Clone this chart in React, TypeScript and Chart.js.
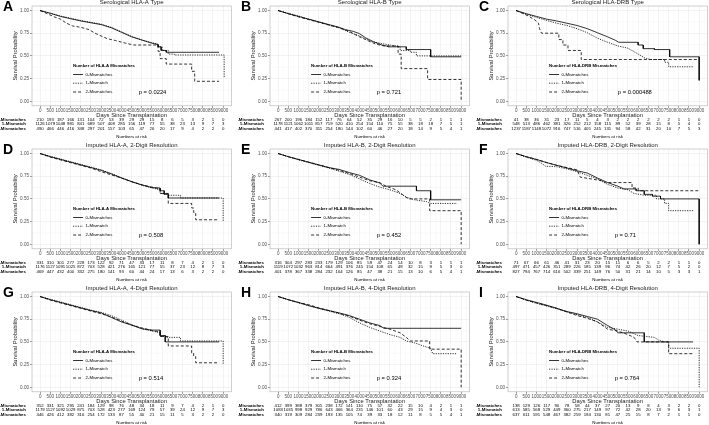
import React, { useEffect, useRef } from 'react';
import { Chart, registerables } from 'chart.js';
Chart.register(...registerables);

const FONT = '"Liberation Sans", Arial, Helvetica, sans-serif';

const X_TICKS = [0, 500, 1000, 1500, 2000, 2500, 3000, 3500, 4000, 4500, 5000, 5500, 6000, 6500, 7000, 7500, 8000, 8500, 9000];
const Y_TICKS = [0, 0.25, 0.5, 0.75, 1];
const GROUP_LABELS = ['0-Mismatches', '1-Mismatch', '2-Mismatches'];
const RISK_LABELS = ['2-Mismatches', '1-Mismatch', '0-Mismatches'];

// ---- survival curves: [days, survival] ----
const a0 = [[0,1],[500,0.97],[1000,0.935],[1500,0.91],[2000,0.885],[2500,0.865],[3000,0.845],[3500,0.81],[4000,0.76],[4500,0.71],[5000,0.675],[5500,0.64],[5800,0.625],[5800,0.6],[5950,0.6],[5950,0.56],[6200,0.56],[6200,0.54],[8800,0.54]];
const a1 = [[0,1],[500,0.97],[1000,0.94],[1500,0.915],[2000,0.89],[2500,0.87],[3000,0.85],[3500,0.815],[4000,0.765],[4500,0.715],[5000,0.675],[5500,0.645],[5800,0.63],[5800,0.6],[6000,0.6],[6000,0.56],[6300,0.56],[6300,0.52],[6600,0.52],[6600,0.51],[9050,0.51],[9050,0.26]];
const a2 = [[0,1],[300,0.97],[700,0.93],[1000,0.905],[1300,0.86],[1600,0.83],[2000,0.815],[2400,0.79],[2700,0.75],[3000,0.72],[3300,0.69],[3700,0.67],[4200,0.64],[4600,0.62],[5800,0.62],[5800,0.55],[5900,0.55],[5900,0.47],[6200,0.47],[6200,0.41],[7450,0.41],[7450,0.33],[7600,0.33],[7600,0.22],[8800,0.22]];

const b0 = [[0,1],[500,0.965],[1000,0.935],[1500,0.905],[2000,0.875],[2500,0.845],[3000,0.815],[3300,0.79],[3700,0.77],[4000,0.745],[4300,0.7],[4700,0.655],[5100,0.62],[5400,0.605],[5400,0.6],[6300,0.6],[6300,0.57],[7500,0.57],[7500,0.49],[9000,0.49]];
const b1 = [[0,1],[500,0.97],[1000,0.94],[1500,0.905],[2000,0.875],[2500,0.84],[3000,0.81],[3500,0.76],[4000,0.72],[4500,0.665],[5000,0.64],[5500,0.62],[6000,0.6],[6000,0.56],[6500,0.56],[6500,0.54],[6800,0.54],[6800,0.5],[9000,0.5]];
const b2 = [[0,1],[500,0.965],[1000,0.93],[1500,0.9],[2000,0.87],[2500,0.84],[3000,0.81],[3500,0.77],[4000,0.71],[4300,0.68],[4800,0.63],[5200,0.61],[5900,0.61],[5900,0.52],[6050,0.52],[6050,0.36],[7350,0.36],[7350,0.24],[9000,0.24],[9000,0]];

const c0 = [[0,1],[500,0.965],[1000,0.935],[1500,0.905],[2000,0.885],[2500,0.86],[3000,0.835],[3500,0.8],[4000,0.755],[4500,0.71],[4900,0.67],[5050,0.65],[6000,0.65],[6000,0.62],[6250,0.62],[6250,0.58],[6800,0.58],[6800,0.57],[7550,0.57],[7550,0.49],[9000,0.49],[9000,0.23]];
const c1 = [[0,1],[500,0.96],[1000,0.925],[1500,0.89],[2000,0.86],[2500,0.835],[3000,0.8],[3500,0.755],[4000,0.695],[4500,0.65],[5000,0.61],[5500,0.585],[6000,0.52],[6300,0.48],[6600,0.46],[7300,0.46],[7300,0.43],[7500,0.43],[7500,0.38],[8700,0.38]];
const c2 = [[0,1],[300,0.97],[600,0.94],[900,0.9],[1100,0.86],[1150,0.8],[1250,0.75],[2100,0.75],[2100,0.68],[2300,0.68],[2300,0.62],[2550,0.62],[2550,0.56],[3200,0.56],[3200,0.46],[9000,0.46]];

const d0 = [[0,1],[500,0.965],[1000,0.935],[1500,0.905],[2000,0.875],[2500,0.845],[3000,0.815],[3500,0.775],[4000,0.73],[4500,0.69],[5000,0.655],[5500,0.625],[5900,0.62],[5900,0.59],[6100,0.59],[6100,0.55],[6300,0.55],[6300,0.51],[8800,0.51]];
const d1 = [[0,1],[500,0.97],[1000,0.94],[1500,0.91],[2000,0.88],[2500,0.85],[3000,0.82],[3500,0.78],[4000,0.735],[4500,0.69],[5000,0.65],[5500,0.62],[5900,0.6],[5900,0.56],[6300,0.56],[6300,0.54],[6900,0.54],[6900,0.51],[9000,0.51],[9000,0.25]];
const d2 = [[0,1],[500,0.96],[1000,0.93],[1500,0.9],[2000,0.87],[2500,0.84],[3000,0.8],[3500,0.765],[4000,0.73],[4500,0.69],[5000,0.655],[5500,0.63],[5900,0.61],[5900,0.56],[6300,0.56],[6300,0.45],[7450,0.45],[7450,0.4],[7550,0.4],[7550,0.35],[7650,0.35],[7650,0.27],[8800,0.27]];

const e0 = [[0,1],[500,0.965],[1000,0.935],[1500,0.905],[2000,0.875],[2500,0.845],[3000,0.825],[3500,0.79],[4000,0.76],[4500,0.71],[5000,0.675],[5150,0.64],[6800,0.64],[6800,0.59],[7500,0.59],[7500,0.49],[9000,0.49]];
const e1 = [[0,1],[500,0.965],[1000,0.93],[1500,0.9],[2000,0.87],[2500,0.84],[3000,0.805],[3500,0.77],[4000,0.72],[4500,0.67],[5000,0.63],[5500,0.6],[6000,0.56],[6300,0.52],[6700,0.49],[7300,0.47],[7500,0.45],[8800,0.45]];
const e2 = [[0,1],[500,0.965],[1000,0.935],[1500,0.905],[2000,0.875],[2500,0.845],[3000,0.815],[3500,0.78],[4000,0.74],[4500,0.7],[5000,0.68],[5300,0.64],[5800,0.6],[6100,0.55],[6400,0.5],[7450,0.5],[7450,0.37],[9000,0.37],[9000,0]];

const f0 = [[0,1],[500,0.965],[1000,0.935],[1500,0.9],[2000,0.87],[2500,0.84],[3000,0.81],[3500,0.785],[4000,0.73],[4500,0.68],[5000,0.64],[5300,0.61],[5900,0.61],[5900,0.59],[6300,0.59],[6300,0.55],[6700,0.55],[6700,0.53],[7100,0.53],[7100,0.5],[9000,0.5],[9000,0]];
const f1 = [[0,1],[500,0.96],[1000,0.925],[1200,0.9],[1450,0.86],[2000,0.855],[2500,0.83],[3000,0.8],[3500,0.76],[4000,0.72],[4500,0.66],[5000,0.62],[5500,0.6],[5800,0.56],[6300,0.54],[6900,0.54],[6900,0.5],[7300,0.5],[7300,0.45],[7500,0.45],[7500,0.37],[8700,0.37]];
const f2 = [[0,1],[500,0.965],[1000,0.935],[1500,0.9],[2000,0.87],[2500,0.845],[3000,0.82],[3150,0.74],[3700,0.72],[4200,0.7],[4400,0.68],[5700,0.68],[5700,0.62],[6000,0.62],[6000,0.59],[9000,0.59]];

const g0 = [[0,1],[500,0.965],[1000,0.935],[1500,0.905],[2000,0.875],[2500,0.845],[3000,0.82],[3500,0.77],[4000,0.72],[4500,0.685],[5000,0.645],[5500,0.63],[5900,0.63],[5900,0.57],[6150,0.57],[6150,0.5],[8800,0.5]];
const g1 = [[0,1],[500,0.97],[1000,0.94],[1500,0.91],[2000,0.88],[2500,0.85],[3000,0.825],[3500,0.79],[4000,0.74],[4500,0.69],[5000,0.645],[5500,0.62],[5900,0.6],[5900,0.56],[6200,0.56],[6200,0.55],[6900,0.55],[6900,0.51],[9000,0.51],[9000,0.25]];
const g2 = [[0,1],[500,0.96],[1000,0.93],[1500,0.9],[2000,0.87],[2500,0.84],[3000,0.81],[3500,0.775],[4000,0.73],[4500,0.685],[5000,0.655],[5500,0.625],[5900,0.61],[5900,0.56],[6300,0.56],[6300,0.455],[7450,0.455],[7450,0.38],[7550,0.38],[7550,0.34],[7650,0.34],[7650,0.27],[8800,0.27]];

const h0 = [[0,1],[500,0.965],[1000,0.935],[1500,0.9],[2000,0.87],[2500,0.845],[3000,0.82],[3500,0.79],[4000,0.75],[4500,0.71],[5000,0.68],[5200,0.65],[9000,0.65]];
const h1 = [[0,1],[500,0.965],[1000,0.93],[1500,0.9],[2000,0.87],[2500,0.84],[3000,0.81],[3500,0.77],[4000,0.71],[4500,0.66],[5000,0.62],[5500,0.58],[6000,0.55],[6300,0.51],[6700,0.49],[7200,0.45],[7500,0.43],[7600,0.37],[8800,0.37]];
const h2 = [[0,1],[500,0.965],[1000,0.935],[1500,0.91],[2000,0.875],[2500,0.845],[3000,0.815],[3500,0.785],[4000,0.74],[4500,0.7],[5000,0.67],[5500,0.64],[6000,0.6],[6300,0.55],[6500,0.51],[7450,0.51],[7450,0.42],[9000,0.42],[9000,0]];

const i0 = [[0,1],[500,0.965],[1000,0.935],[1500,0.905],[2000,0.87],[2500,0.835],[3000,0.81],[3500,0.78],[4000,0.75],[4500,0.68],[4900,0.63],[5000,0.6],[6300,0.6],[6300,0.5],[8700,0.5]];
const i1 = [[0,1],[500,0.96],[1000,0.925],[1500,0.895],[2000,0.865],[2500,0.83],[3000,0.8],[3500,0.77],[4000,0.72],[4500,0.66],[5000,0.64],[5500,0.62],[6000,0.57],[6800,0.55],[7000,0.52],[7300,0.5],[7500,0.5],[7500,0.43],[9000,0.43],[9000,0]];
const i2 = [[0,1],[500,0.96],[1000,0.93],[1500,0.9],[2000,0.87],[2500,0.83],[3000,0.79],[3500,0.76],[4000,0.72],[4500,0.64],[5000,0.62],[5500,0.58],[5800,0.55],[5950,0.5],[7500,0.5],[7500,0.37],[8700,0.37]];

// ---- numbers at risk ----
const riskA2 = [210,193,187,166,131,104,72,53,39,29,29,15,8,6,5,3,2,1,0];
const riskA1 = [1126,1079,1048,981,841,689,507,408,285,156,119,77,55,38,23,13,9,7,3];
const riskA0 = [490,466,446,416,348,297,201,157,103,65,47,26,20,17,9,4,2,2,0];
const riskB2 = [267,200,196,184,152,117,76,64,52,35,29,16,10,5,5,2,1,1,1];
const riskB1 = [1178,1121,1062,1011,857,719,520,410,254,154,110,75,55,38,18,18,7,5,1];
const riskB0 = [441,417,402,370,311,254,180,144,102,60,46,27,20,18,14,9,5,4,1];
const riskC2 = [41,38,36,31,23,17,11,5,4,3,2,2,2,2,2,2,1,1,0];
const riskC1 = [548,513,486,462,381,326,252,212,158,115,89,52,39,28,15,8,5,4,0];
const riskC0 = [1237,1187,1148,1072,916,747,516,405,245,131,94,58,42,31,20,10,7,5,3];
const riskD2 = [331,310,301,277,228,173,122,92,71,47,33,17,11,8,7,4,2,1,0];
const riskD1 = [1176,1127,1091,1025,872,703,528,421,276,165,121,77,55,37,23,12,8,7,3];
const riskD0 = [469,447,432,400,332,275,180,141,93,60,44,24,17,13,6,3,2,2,0];
const riskE2 = [316,304,297,283,233,179,129,106,85,59,47,24,14,10,8,3,1,1,1];
const riskE1 = [1119,1072,1032,963,814,664,491,376,245,154,108,65,48,32,15,9,5,3,0];
const riskE0 = [401,378,367,338,284,232,164,126,85,47,38,21,15,13,10,6,5,4,1];
const riskF2 = [71,67,66,61,46,41,31,23,20,15,11,6,6,5,2,2,1,1,0];
const riskF1 = [497,471,457,426,351,289,226,185,139,96,74,42,26,20,12,7,5,2,0];
const riskF0 = [827,794,767,714,616,502,339,251,149,76,50,31,21,14,10,5,3,3,1];
const riskG2 = [352,331,321,295,241,184,129,98,76,48,34,18,11,9,7,4,2,1,0];
const riskG1 = [1179,1127,1092,1029,875,703,528,423,277,169,124,79,57,39,24,12,9,7,3];
const riskG0 = [446,426,412,382,316,254,172,133,87,55,40,21,15,11,5,3,2,2,0];
const riskH2 = [412,399,388,379,305,238,172,141,110,75,57,32,22,15,10,4,2,1,1];
const riskH1 = [1083,1035,998,929,786,643,466,364,231,146,101,60,43,29,15,9,4,3,0];
const riskH0 = [340,319,309,284,239,193,135,105,74,39,33,18,12,11,8,5,5,4,1];
const riskI2 = [138,129,126,117,90,78,58,44,37,27,20,13,9,8,4,3,2,2,0];
const riskI1 = [613,585,568,529,449,360,275,217,149,97,72,42,28,20,13,9,6,3,1];
const riskI0 = [637,611,591,548,467,382,259,194,130,81,47,25,15,8,7,2,1,1,0];

const titles = [
  'Serological HLA-A Type', 'Serological HLA-B Type', 'Serological HLA-DRB Type',
  'Imputed HLA-A, 2-Digit Resolution', 'Imputed HLA-B, 2-Digit Resolution', 'Imputed HLA-DRB, 2-Digit Resolution',
  'Imputed HLA-A, 4-Digit Resolution', 'Imputed HLA-B, 4-Digit Resolution', 'Imputed HLA-DRB, 4-Digit Resolution',
];
const letters = ['A', 'B', 'C', 'D', 'E', 'F', 'G', 'H', 'I'];
const genes = ['HLA-A', 'HLA-B', 'HLA-DRB', 'HLA-A', 'HLA-B', 'HLA-DRB', 'HLA-A', 'HLA-B', 'HLA-DRB'];
const pValues = ['p = 0.0224', 'p = 0.721', 'p = 0.000488', 'p = 0.508', 'p = 0.452', 'p = 0.71', 'p = 0.514', 'p = 0.324', 'p = 0.764'];
const curves = [[a0, a1, a2], [b0, b1, b2], [c0, c1, c2], [d0, d1, d2], [e0, e1, e2], [f0, f1, f2], [g0, g1, g2], [h0, h1, h2], [i0, i1, i2]];
const risks = [
  [riskA2, riskA1, riskA0], [riskB2, riskB1, riskB0], [riskC2, riskC1, riskC0],
  [riskD2, riskD1, riskD0], [riskE2, riskE1, riskE0], [riskF2, riskF1, riskF0],
  [riskG2, riskG1, riskG0], [riskH2, riskH1, riskH0], [riskI2, riskI1, riskI0],
];

const DASHES = [[], [1.2, 1.2], [3, 2]];
const PANEL_W = 236;
const PANEL_H = 143;
const COL_LEFT = [0, 238, 476];
const ROW_TOP = [-3, 140, 283];

function makeDecor(idx: number) {
  return {
    id: 'decor' + idx,
    beforeDatasetsDraw(chart: any) {
      const { ctx, chartArea: ca, scales } = chart;
      ctx.save();
      ctx.strokeStyle = '#f2f2f2';
      ctx.lineWidth = 0.4;
      for (let v = 250; v < 9400; v += 500) {
        const x = scales.x.getPixelForValue(v);
        ctx.beginPath(); ctx.moveTo(x, ca.top); ctx.lineTo(x, ca.bottom); ctx.stroke();
      }
      for (let v = 0.125; v < 1.05; v += 0.25) {
        const y = scales.y.getPixelForValue(v);
        ctx.beginPath(); ctx.moveTo(ca.left, y); ctx.lineTo(ca.right, y); ctx.stroke();
      }
      ctx.restore();
    },
    afterDraw(chart: any) {
      const { ctx, chartArea: ca, scales } = chart;
      const xs = scales.x;
      const cx = (ca.left + ca.right) / 2;
      ctx.save();
      // frame
      ctx.strokeStyle = '#b0b0b0';
      ctx.lineWidth = 0.6;
      ctx.setLineDash([]);
      ctx.strokeRect(ca.left, ca.top, ca.right - ca.left, ca.bottom - ca.top);

      ctx.fillStyle = '#000';
      ctx.textBaseline = 'middle';
      // panel letter
      ctx.textAlign = 'left';
      ctx.font = `bold 14px ${FONT}`;
      ctx.fillText(letters[idx], 3, 10);
      // title
      ctx.textAlign = 'center';
      ctx.font = `6px ${FONT}`;
      ctx.fillStyle = '#1a1a1a';
      ctx.fillText(titles[idx], cx, 5);
      // x-axis title
      ctx.font = `5.8px ${FONT}`;
      ctx.fillText('Days Since Transplantation', cx, 118);
      // y-axis title
      ctx.save();
      ctx.translate(15, (ca.top + ca.bottom) / 2);
      ctx.rotate(-Math.PI / 2);
      ctx.fillText('Survival Probability', 0, 0);
      ctx.restore();

      // legend
      const lx = xs.getPixelForValue(1620);
      ctx.textAlign = 'left';
      ctx.fillStyle = '#000';
      ctx.font = `bold 4.3px ${FONT}`;
      ctx.fillText(`Number of ${genes[idx]} Mismatches`, lx, 69);
      const ly = [77.5, 86.2, 95];
      ctx.font = `4.3px ${FONT}`;
      ctx.strokeStyle = '#000';
      ctx.lineWidth = 0.8;
      for (let k = 0; k < 3; k++) {
        ctx.setLineDash(DASHES[k]);
        ctx.beginPath();
        ctx.moveTo(lx, ly[k]);
        ctx.lineTo(lx + 10, ly[k]);
        ctx.stroke();
        ctx.fillText(GROUP_LABELS[k], lx + 12.5, ly[k]);
      }
      ctx.setLineDash([]);
      // p-value
      ctx.font = `5.8px ${FONT}`;
      ctx.fillText(pValues[idx], xs.getPixelForValue(idx === 2 ? 5000 : 4850), 95);

      // risk table
      const ry = [123, 127.2, 131.4];
      for (let r = 0; r < 3; r++) {
        ctx.textAlign = 'right';
        ctx.font = `bold 4.4px ${FONT}`;
        ctx.fillText(RISK_LABELS[r], 26, ry[r]);
        ctx.textAlign = 'center';
        ctx.font = `4.3px ${FONT}`;
        const row = risks[idx][r];
        for (let t = 0; t < X_TICKS.length; t++) {
          ctx.fillText(String(row[t]), xs.getPixelForValue(X_TICKS[t]), ry[r]);
        }
      }
      ctx.font = `4.4px ${FONT}`;
      ctx.textAlign = 'center';
      ctx.fillText('Numbers at risk', cx, 139.8);
      ctx.restore();
    },
  };
}

function Panel({ idx }: { idx: number }) {
  const ref = useRef<HTMLCanvasElement>(null);
  useEffect(() => {
    const canvas = ref.current!;
    const chart = new Chart(canvas, {
      type: 'line',
      data: {
        datasets: curves[idx].map((c, k) => ({
          label: GROUP_LABELS[k],
          data: c.map(([x, y]) => ({ x, y })),
          borderColor: '#000',
          borderWidth: 0.8,
          borderDash: DASHES[k],
          pointRadius: 0,
          fill: false,
          tension: 0,
        })),
      },
      options: {
        animation: false,
        responsive: false,
        events: [],
        layout: { padding: { left: 0, top: 9, right: PANEL_W - 231.3, bottom: 0 } },
        plugins: { legend: { display: false }, tooltip: { enabled: false }, title: { display: false } },
        scales: {
          x: {
            type: 'linear',
            min: -400,
            max: 9400,
            afterBuildTicks: (s: any) => { s.ticks = X_TICKS.map((v) => ({ value: v })); },
            afterFit: (s: any) => { s.height = PANEL_H - 108.8; },
            ticks: {
              autoSkip: false,
              maxRotation: 0,
              minRotation: 0,
              padding: 0.5,
              color: '#4d4d4d',
              font: { family: FONT, size: 4.5 },
              callback: (v: any) => String(v),
            },
            grid: { color: '#e6e6e6', lineWidth: 0.5, tickColor: '#333', tickLength: 2 },
            border: { display: false },
          },
          y: {
            type: 'linear',
            min: -0.05,
            max: 1.05,
            afterBuildTicks: (s: any) => { s.ticks = Y_TICKS.map((v) => ({ value: v })); },
            afterFit: (s: any) => { s.width = 32; },
            ticks: {
              padding: 1,
              color: '#4d4d4d',
              font: { family: FONT, size: 4.6 },
              callback: (v: any) => Number(v).toFixed(2),
            },
            grid: { color: '#e6e6e6', lineWidth: 0.5, tickColor: '#333', tickLength: 2 },
            border: { display: false },
          },
        },
      },
      plugins: [makeDecor(idx)],
    } as any);
    return () => chart.destroy();
  }, [idx]);
  const col = idx % 3;
  const row = Math.floor(idx / 3);
  return (
    <canvas
      ref={ref}
      width={PANEL_W}
      height={PANEL_H}
      style={{ position: 'absolute', left: COL_LEFT[col], top: ROW_TOP[row], width: PANEL_W, height: PANEL_H }}
    />
  );
}

export default function App() {
  return (
    <div style={{ position: 'fixed', left: 0, top: 0, width: 709, height: 425, overflow: 'hidden', background: '#fff' }}>
      {letters.map((_, i) => <Panel key={i} idx={i} />)}
    </div>
  );
}
